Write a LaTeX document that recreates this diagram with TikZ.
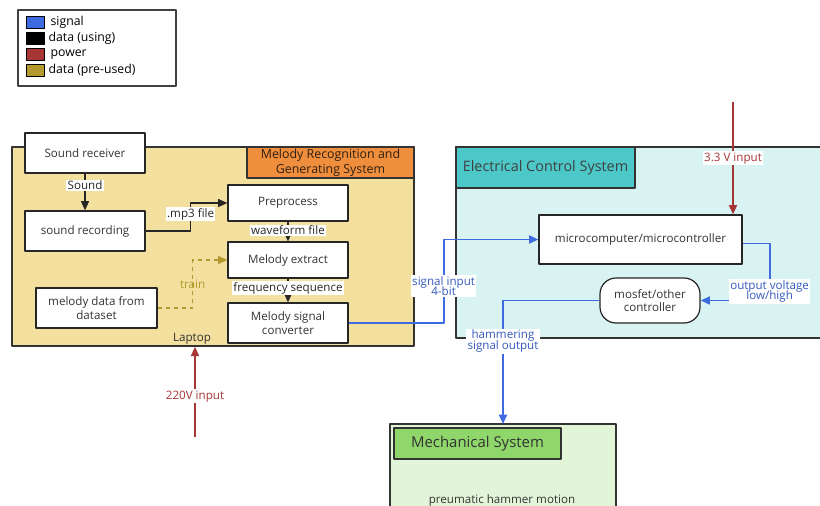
\documentclass[tikz,border=0pt]{standalone}
\usepackage{fontspec}
\setmainfont{Open Sans}
\usetikzlibrary{arrows.meta}
\definecolor{sigc}{HTML}{3F6BE0}
\definecolor{powc}{HTML}{A63535}
\definecolor{prec}{HTML}{B39A2E}
\definecolor{lapfill}{HTML}{F3DF9E}
\definecolor{lapttl}{HTML}{EF8E3C}
\definecolor{elcfill}{HTML}{D9F3F3}
\definecolor{elcttl}{HTML}{4CC8C8}
\definecolor{mecfill}{HTML}{E3F5D9}
\definecolor{mecttl}{HTML}{8FD66B}
\begin{document}
\begin{tikzpicture}[x=0.75pt,y=-0.75pt,>={Triangle[length=7pt,width=6pt]},line join=round,
    font=\fontsize{8.7}{10}\selectfont,
    box/.style={draw=black!85,fill=white,line width=0.9pt,align=center,text=black!80,inner sep=1pt},
    region/.style={draw=black!80,line width=1.1pt,inner sep=0pt},
    ttl/.style={draw=black!80,line width=1.1pt,inner sep=0pt,align=center},
    lbl/.style={fill=white,inner sep=1pt,align=center,text=black!85},
    dat/.style={->,line width=1pt,black!85},
    sig/.style={->,line width=1.4pt,sigc},
    pow/.style={->,line width=1.3pt,powc},
    swatch/.style={draw=black,line width=0.6pt,minimum width=13.5pt,minimum height=8.5pt,inner sep=0pt}]
\useasboundingbox (0,0) rectangle (820,506);
% legend
\draw[black!75,line width=0.8pt] (18,10) rectangle (176,86);
\node[swatch,fill=sigc] (lg1) at (35,22.5) {};
\node[swatch,fill=black] (lg2) at (35,38.5) {};
\node[swatch,fill=powc] (lg3) at (35,54.5) {};
\node[swatch,fill=prec] (lg4) at (35,70.5) {};
\begin{scope}[font=\fontsize{9.2}{11}\selectfont]
\node[anchor=west,inner sep=1pt] at (49,22.5) {signal};
\node[anchor=west,inner sep=1pt] at (47,38.5) {data (using)};
\node[anchor=west,inner sep=1pt] at (49,54.5) {power};
\node[anchor=west,inner sep=1pt] at (47,70.5) {data (pre-used)};
\end{scope}
% regions
\node[region,fill=lapfill,minimum width=301.5pt,minimum height=149.25pt] (lap) at (213,246.5) {};
\node[ttl,fill=lapttl,minimum width=125.25pt,minimum height=23.25pt,text=black!75!brown,font=\fontsize{9.3}{11}\selectfont] (lapt) at (330.5,162.5) {Melody Recognition and\\Generating System};
\node[text=black!80,inner sep=1pt] (laplbl) at (192,339) {Laptop};
\draw[region,fill=elcfill] (825,147) -- (456,147) -- (456,338) -- (825,338);
\node[ttl,fill=elcttl,minimum width=134.25pt,minimum height=30.75pt,font=\fontsize{10.8}{12}\selectfont,text=black!75] (elct) at (545.5,167.5) {Electrical Control System};
\draw[region,fill=mecfill] (390,515) -- (390,424) -- (616,424) -- (616,515);
\coordinate (mech) at (503,424);
\node[ttl,fill=mecttl,minimum width=125.25pt,minimum height=23.25pt,font=\fontsize{11.2}{13}\selectfont,text=black!80] (mect) at (477.5,443.5) {Mechanical System};
\node[text=black!80,inner sep=1pt] (mecl) at (502,500) {preumatic hammer motion};
% boxes
\node[box,minimum width=90pt,minimum height=30pt] (recv) at (85,153) {Sound receiver};
\node[box,minimum width=90pt,minimum height=30pt] (rec) at (85,231) {sound recording};
\node[box,minimum width=90pt,minimum height=27pt] (pre) at (288,203) {Preprocess};
\node[box,minimum width=90pt,minimum height=27pt] (ext) at (288,260) {Melody extract};
\node[box,minimum width=90pt,minimum height=30pt] (conv) at (288,323) {Melody signal\\converter};
\node[box,minimum width=90.75pt,minimum height=30pt] (data) at (96.5,308) {melody data from\\dataset};
\node[box,minimum width=152.25pt,minimum height=36.75pt] (mc) at (640.5,239.5) {microcomputer/microcontroller};
\node[box,rounded corners=12pt,minimum width=75pt,minimum height=33.75pt] (mos) at (650,300.5) {mosfet/other\\controller};
% data
\draw[dat] (recv) -- node[lbl,pos=0.32] {Sound} (rec);
\draw[dat] (rec.east) -- ++(45,0) |- node[lbl,pos=0.3] {.mp3 file} (pre.west);
\draw[dat] (pre) -- node[lbl,pos=0.45] {waveform file} (ext);
\draw[dat] (ext) -- node[lbl,pos=0.4] {frequency sequence} (conv);
\draw[->,dashed,line width=1pt,prec] (data.east) -- ++(35,0) |- node[pos=0.25,text=prec,inner sep=1pt] {train} (ext.west);
% signal
\draw[sig] (conv.east) -- ++(95,0) |- node[lbl,pos=0.22,text=sigc!85!black] {signal input\\[-2pt]4-bit} (mc.west);
\draw[sig] ([yshift=-3pt]mc.east) -- ++(27,0) |- node[lbl,pos=0.42,text=sigc!85!black] {output voltage\\[-2pt]low/high} (mos.east);
\draw[sig] (mos.west) -| node[lbl,pos=0.665,text=sigc!85!black] {hammering\\[-2pt]signal output} (mech);
% power
\coordinate (pin1) at (733,102);
\coordinate (pin2) at (195,437);
\draw[pow] (pin1) -- node[lbl,pos=0.5,text=powc] {3.3 V input} (pin1 |- mc.north);
\draw[pow] (pin2) -- node[lbl,pos=0.45,text=powc] {220V input} (pin2 |- lap.south);
\end{tikzpicture}
\end{document}
